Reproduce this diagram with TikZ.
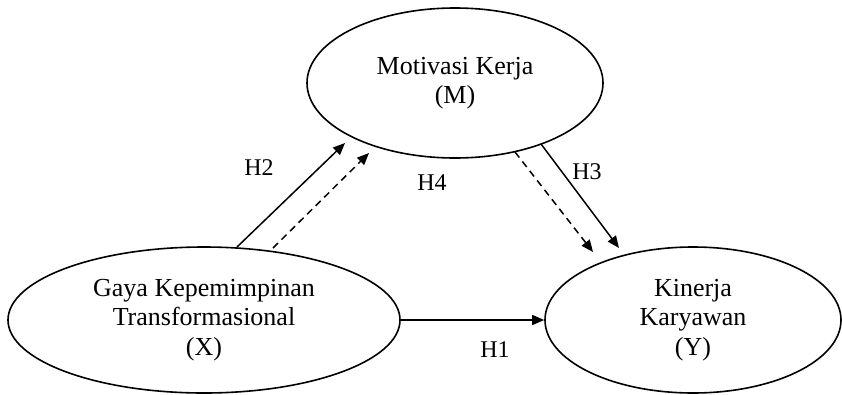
\documentclass[tikz,border=0pt]{standalone}
\usepackage{fontspec}
\setmainfont{Liberation Serif}
\usetikzlibrary{shapes.geometric,arrows.meta}
\begin{document}
\begin{tikzpicture}[x=1pt,y=-1pt,
  var/.style={draw,ellipse,line width=1.6pt,inner sep=0pt,align=center,font=\fontsize{26}{29.5}\selectfont},
  lbl/.style={font=\fontsize{24}{26}\selectfont},
  arr/.style={line width=1.5pt,-{Triangle[length=12pt,width=10pt]}},
  darr/.style={arr,dash pattern=on 7pt off 5pt}]
\useasboundingbox (0,0) rectangle (842,394);
\node[var,minimum width=296pt,minimum height=150pt] (M) at (455,83) {Motivasi Kerja\\(M)};
\node[var,minimum width=392pt,minimum height=146pt] (X) at (204,320) {Gaya Kepemimpinan\\Transformasional\\(X)};
\node[var,minimum width=296pt,minimum height=146pt] (Y) at (693,320) {Kinerja\\Karyawan\\(Y)};
% arrows
\draw[arr] (X.east) -- (Y.west);
\coordinate (h2s) at (237,247); \coordinate (h2e) at (345,143);
\coordinate (h4s) at (273,248); \coordinate (h4e) at (369,153);
\coordinate (h3s) at (541,144); \coordinate (h3e) at (619,248);
\coordinate (h5s) at (515,152); \coordinate (h5e) at (593,252);
\draw[arr] (h2s) -- (h2e);
\draw[darr] (h4s) -- (h4e);
\draw[arr] (h3s) -- (h3e);
\draw[darr] (h5s) -- (h5e);
\node[lbl] (l1) at (495,350) {H1};
\node[lbl] (l2) at (259,168) {H2};
\node[lbl] (l3) at (587,172) {H3};
\node[lbl] (l4) at (432,183) {H4};
\end{tikzpicture}
\end{document}
